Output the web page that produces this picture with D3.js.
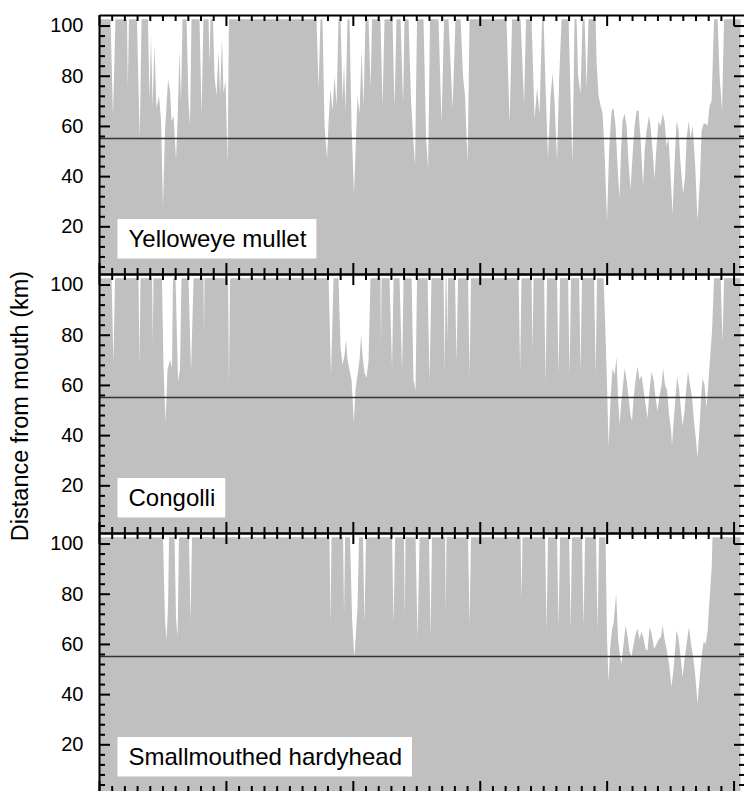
<!DOCTYPE html>
<html><head><meta charset="utf-8">
<script src="https://cdn.jsdelivr.net/npm/d3@7"></script>
<style>body{margin:0;background:#fff}svg{display:block}</style>
</head><body>
<svg id="c" width="744" height="791"></svg>
<script>
const species = ["Yelloweye mullet", "Congolli", "Smallmouthed hardyhead"];
const yAxisTitle = "Distance from mouth (km)";
const referenceKm = 55;
const yMajorTicks = [20, 40, 60, 80, 100];
const yMinorTicks = [4, 8, 12, 16, 24, 28, 32, 36, 44, 48, 52, 56, 64, 68, 72, 76, 84, 88, 92, 96];
const xMajorTicks = [0, 10, 20, 30, 40, 50];
const xMinorTicks = [1,2,3,4,5,6,7,8,9,11,12,13,14,15,16,17,18,19,21,22,23,24,25,26,27,28,29,31,32,33,34,35,36,37,38,39,41,42,43,44,45,46,47,48,49];
const xDomain = [0, 50.9];
const yDomain = [1, 104.2];

const mullet = [[0,102.5],[0.91,102.5],[1.10,64],[1.30,102.5],[2.21,102.5],[2.27,75],[2.36,102.5],[2.99,102.5],[3.21,55],[3.35,102.5],[3.86,102.5],[3.98,70],[4.10,96],[4.22,68],[4.37,92],[4.53,67],[4.73,72],[4.89,62],[5.04,28],[5.20,58],[5.44,78.5],[5.60,74],[5.71,62],[5.87,64],[6.07,46.6],[6.19,62],[6.34,90],[6.46,70],[6.58,102.5],[6.90,102.5],[7.05,70],[7.17,60],[7.29,102.5],[7.92,102.5],[8.08,64.5],[8.23,102.5],[8.63,102.5],[8.71,85],[8.79,102.5],[8.98,102.5],[9.10,80],[9.26,72],[9.42,90],[9.54,72],[9.69,95],[9.81,73],[9.97,78],[10.13,44.6],[10.24,102.5],[17.14,102.5],[17.30,75],[17.45,102.5],[17.61,102.5],[17.77,60],[17.97,47],[18.09,62],[18.24,75],[18.40,66],[18.56,80],[18.72,68],[18.87,102.5],[19.03,102.5],[19.19,70],[19.31,85],[19.42,66],[19.58,102.5],[19.74,102.5],[19.90,60],[20.09,33],[20.25,55],[20.37,72],[20.53,65],[20.69,90],[20.84,68],[21.00,102.5],[21.24,102.5],[21.40,75],[21.51,102.5],[22.18,102.5],[22.34,68],[22.50,102.5],[23.13,102.5],[23.28,67],[23.44,102.5],[23.76,102.5],[23.96,69],[24.07,102.5],[24.39,102.5],[24.59,70],[24.70,60],[24.90,44],[25.06,102.5],[25.57,102.5],[25.77,55],[25.93,42.8],[26.08,102.5],[26.75,102.5],[26.99,61],[27.19,102.5],[27.54,102.5],[27.86,67],[28.09,102.5],[28.49,102.5],[28.68,80],[28.84,72],[29.04,45],[29.20,102.5],[32.11,102.5],[32.35,61],[32.55,102.5],[33.22,102.5],[33.49,69],[33.65,102.5],[34.08,102.5],[34.32,63],[34.52,75],[34.71,65],[34.91,102.5],[35.03,102.5],[35.19,75],[35.38,47],[35.58,72],[35.74,81],[35.89,70],[36.09,46],[36.25,78],[36.45,102.5],[37.00,102.5],[37.16,70],[37.31,45],[37.47,102.5],[37.63,102.5],[37.75,80],[37.94,73],[38.10,102.5],[38.26,102.5],[38.42,75],[38.57,102.5],[39.13,102.5],[39.21,85],[39.36,72],[39.52,68],[39.68,65],[39.83,50],[40.03,22],[40.19,50],[40.39,66],[40.54,67],[40.70,60],[40.90,40],[41.02,31.5],[41.13,50],[41.25,62],[41.41,65],[41.57,60],[41.73,45],[41.88,35],[42.04,48],[42.20,60],[42.36,66],[42.51,66],[42.67,55],[42.87,36],[42.99,50],[43.14,58],[43.34,64],[43.46,60],[43.62,50],[43.77,39],[43.93,52],[44.09,62],[44.25,60],[44.41,65],[44.56,62],[44.72,52],[44.88,55],[45.04,40],[45.19,25],[45.35,45],[45.51,62],[45.67,58],[45.82,45],[46.02,33],[46.18,40],[46.30,55],[46.46,62],[46.61,55],[46.77,60],[46.97,45],[47.16,22],[47.36,40],[47.48,58],[47.64,61],[47.80,61],[47.95,60],[48.11,68],[48.27,70],[48.46,102.5],[48.74,102.5],[48.90,80],[49.09,66],[49.25,102.5],[50.55,102.5]];

const congolli = [[0,102.5],[0.99,102.5],[1.14,69],[1.26,102.5],[3.11,102.5],[3.19,68],[3.27,102.5],[4.18,102.5],[4.24,77],[4.29,102.5],[4.96,102.5],[5.08,68],[5.24,44.8],[5.40,66],[5.59,70],[5.75,67],[5.83,102.5],[6.03,102.5],[6.23,61.4],[6.38,66],[6.50,102.5],[7.05,102.5],[7.25,65.4],[7.45,102.5],[8.23,102.5],[8.27,80],[8.31,102.5],[10.17,102.5],[10.24,60],[10.32,102.5],[18.09,102.5],[18.28,64],[18.48,102.5],[18.87,102.5],[19.03,75],[19.19,68],[19.35,72],[19.46,78],[19.58,70],[19.74,66],[19.90,62],[20.08,44.8],[20.21,58],[20.37,64],[20.53,70],[20.65,80],[20.76,72],[20.92,65],[21.08,62.7],[21.24,70],[21.39,102.5],[22.18,102.5],[22.22,75],[22.26,102.5],[22.89,102.5],[23.09,66.7],[23.21,102.5],[23.68,102.5],[23.88,65.4],[24.00,102.5],[24.63,102.5],[24.78,62],[24.94,58],[25.06,102.5],[25.89,102.5],[26.04,61.4],[26.20,102.5],[27.15,102.5],[27.23,65.4],[27.31,102.5],[27.38,102.5],[27.45,77],[27.50,102.5],[28.05,102.5],[28.17,69.4],[28.29,102.5],[29.08,102.5],[29.20,63.4],[29.31,102.5],[33.06,102.5],[33.18,66],[33.29,102.5],[34.08,102.5],[34.16,74],[34.24,102.5],[35.07,102.5],[35.19,61],[35.30,102.5],[36.09,102.5],[36.21,64],[36.33,102.5],[36.96,102.5],[37.08,63.4],[37.19,102.5],[37.83,102.5],[37.94,65.4],[38.06,102.5],[39.01,102.5],[39.13,64],[39.24,102.5],[39.76,102.5],[39.91,80],[40.03,60],[40.15,35.5],[40.31,55],[40.46,66.7],[40.62,64],[40.78,71],[40.90,55],[41.02,44],[41.13,52],[41.29,60],[41.41,66.7],[41.57,62],[41.73,55],[41.88,48],[42.00,45.5],[42.12,55],[42.28,62],[42.43,67.4],[42.59,62],[42.75,64],[42.91,58],[43.07,52],[43.22,46.8],[43.38,58],[43.54,65.4],[43.70,62],[43.85,55],[44.01,49.5],[44.17,56],[44.33,60],[44.44,66.7],[44.60,60],[44.76,58],[44.92,48],[45.07,42],[45.15,36],[45.27,45],[45.43,55],[45.55,63.4],[45.71,58],[45.86,50],[45.98,43.5],[46.14,50],[46.30,60],[46.41,65.4],[46.57,60],[46.73,55],[46.89,45],[47.04,38],[47.16,31],[47.28,40],[47.44,55],[47.56,62.7],[47.71,60],[47.87,51],[48.03,62],[48.15,71],[48.31,82],[48.46,102.5],[48.98,102.5],[49.13,77],[49.25,102.5],[50.55,102.5]];

const hardyhead = [[0,102.5],[5.04,102.5],[5.20,70],[5.32,61.4],[5.44,75],[5.52,102.5],[5.95,102.5],[6.07,70],[6.19,62.7],[6.30,102.5],[7.09,102.5],[7.21,69],[7.33,102.5],[18.16,102.5],[18.24,68],[18.32,102.5],[19.23,102.5],[19.31,72],[19.39,102.5],[19.78,102.5],[19.94,70],[20.05,60],[20.13,54.8],[20.25,65],[20.37,75],[20.49,102.5],[20.80,102.5],[20.92,68],[21.04,102.5],[23.09,102.5],[23.21,68],[23.33,102.5],[24.03,102.5],[24.10,70],[24.15,102.5],[24.94,102.5],[25.10,62],[25.26,102.5],[26.00,102.5],[26.12,62.7],[26.24,102.5],[27.27,102.5],[27.33,72],[27.38,102.5],[29.08,102.5],[29.20,67.4],[29.31,102.5],[33.22,102.5],[33.29,77],[33.37,102.5],[35.15,102.5],[35.26,65.4],[35.38,102.5],[36.09,102.5],[36.21,66.7],[36.33,102.5],[37.04,102.5],[37.16,66],[37.27,102.5],[38.06,102.5],[38.18,66.7],[38.30,102.5],[39.16,102.5],[39.28,65.4],[39.40,102.5],[39.91,102.5],[40.03,62],[40.15,44.8],[40.27,58],[40.43,66],[40.54,68],[40.75,80],[40.90,62],[41.06,55],[41.17,52],[41.33,60],[41.49,67.4],[41.65,63],[41.80,57],[41.96,55],[42.12,60],[42.28,64],[42.43,66],[42.59,62],[42.75,65],[42.91,62],[43.07,58],[43.22,57.4],[43.38,66.7],[43.54,64],[43.74,58],[43.93,60],[44.13,62],[44.29,63],[44.41,67.4],[44.56,62],[44.72,58],[44.92,52],[45.04,46],[45.11,42.8],[45.27,50],[45.43,60],[45.51,65.4],[45.67,62],[45.82,55],[45.98,46.8],[46.14,54],[46.30,60],[46.49,66.7],[46.65,60],[46.81,55],[46.97,48],[47.16,36.2],[47.32,46],[47.48,55],[47.64,61],[47.79,60],[47.95,65],[48.11,78],[48.27,90],[48.34,102.5],[50.55,102.5]];

const panels = [mullet, congolli, hardyhead];

const FONT = "'Liberation Sans', Arial, Helvetica, sans-serif";
const svg = d3.select("#c");
const left = 99, right = 745, top0 = 15, panelH = 259;
const x = d3.scaleLinear().domain(xDomain).range([left, right]);

function styleAxis(g) {
  g.selectAll("path.domain").attr("stroke", "#000").attr("stroke-width", 2);
  g.selectAll(".tick line").attr("stroke", "#000").attr("stroke-width", 2);
}

panels.forEach((series, i) => {
  const top = top0 + i * panelH;
  const y = d3.scaleLinear().domain(yDomain).range([top + panelH, top]);
  const g = svg.append("g");

  const area = d3.area()
    .x(d => x(d[0]))
    .y0(y(yDomain[0]))
    .y1(d => y(d[1]))
    .curve(d3.curveLinear);
  g.append("path").datum(series).attr("d", area).attr("fill", "#c0c0c0");

  g.append("line")
    .attr("x1", x(xDomain[0])).attr("x2", x(xDomain[1]))
    .attr("y1", y(referenceKm)).attr("y2", y(referenceKm))
    .attr("stroke", "#333").attr("stroke-width", 1.3);

  const lab = g.append("g");
  const rect = lab.append("rect");
  const txt = lab.append("text")
    .attr("x", 128.5).attr("y", top + 232)
    .attr("font-family", FONT).attr("font-size", 24).attr("fill", "#000")
    .text(species[i]);
  const tw = txt.node().getComputedTextLength();
  rect.attr("x", 128.5 - 11).attr("y", top + 204).attr("width", tw + 21).attr("height", 39.5).attr("fill", "#fff");

  const gl = g.append("g").attr("transform", `translate(${left},0)`);
  gl.call(d3.axisRight(y).tickValues(yMajorTicks).tickSizeInner(11).tickSizeOuter(0).tickFormat(""));
  styleAxis(gl);
  const glm = g.append("g").attr("transform", `translate(${left},0)`);
  glm.call(d3.axisRight(y).tickValues(yMinorTicks).tickSizeInner(6).tickSizeOuter(0).tickFormat(""));
  glm.select("path.domain").remove();
  styleAxis(glm);
  const gll = g.append("g").attr("transform", `translate(${left},0)`);
  gll.call(d3.axisLeft(y).tickValues(yMajorTicks).tickSize(0).tickPadding(15.5));
  gll.select("path.domain").remove();
  gll.selectAll("text").attr("font-family", FONT).attr("font-size", 20).attr("fill", "#000");

  const gr = g.append("g").attr("transform", `translate(${right},0)`);
  gr.call(d3.axisLeft(y).tickValues(yMajorTicks).tickSizeInner(11).tickSizeOuter(0).tickFormat(""));
  styleAxis(gr);
  const grm = g.append("g").attr("transform", `translate(${right},0)`);
  grm.call(d3.axisLeft(y).tickValues(yMinorTicks).tickSizeInner(6).tickSizeOuter(0).tickFormat(""));
  grm.select("path.domain").remove();
  styleAxis(grm);

  const gt = g.append("g").attr("transform", `translate(0,${top})`);
  gt.call(d3.axisBottom(x).tickValues(xMajorTicks).tickSizeInner(11).tickSizeOuter(0).tickFormat(""));
  styleAxis(gt);
  const gtm = g.append("g").attr("transform", `translate(0,${top})`);
  gtm.call(d3.axisBottom(x).tickValues(xMinorTicks).tickSizeInner(6).tickSizeOuter(0).tickFormat(""));
  gtm.select("path.domain").remove();
  styleAxis(gtm);

  const gb = g.append("g").attr("transform", `translate(0,${top + panelH})`);
  gb.call(d3.axisTop(x).tickValues(xMajorTicks).tickSizeInner(11).tickSizeOuter(0).tickFormat(""));
  styleAxis(gb);
  const gbm = g.append("g").attr("transform", `translate(0,${top + panelH})`);
  gbm.call(d3.axisTop(x).tickValues(xMinorTicks).tickSizeInner(6).tickSizeOuter(0).tickFormat(""));
  gbm.select("path.domain").remove();
  styleAxis(gbm);
});

svg.append("text")
  .attr("transform", `translate(28,406) rotate(-90)`)
  .attr("text-anchor", "middle")
  .attr("font-family", FONT).attr("font-size", 23.5).attr("fill", "#000")
  .text(yAxisTitle);
</script>
</body></html>
